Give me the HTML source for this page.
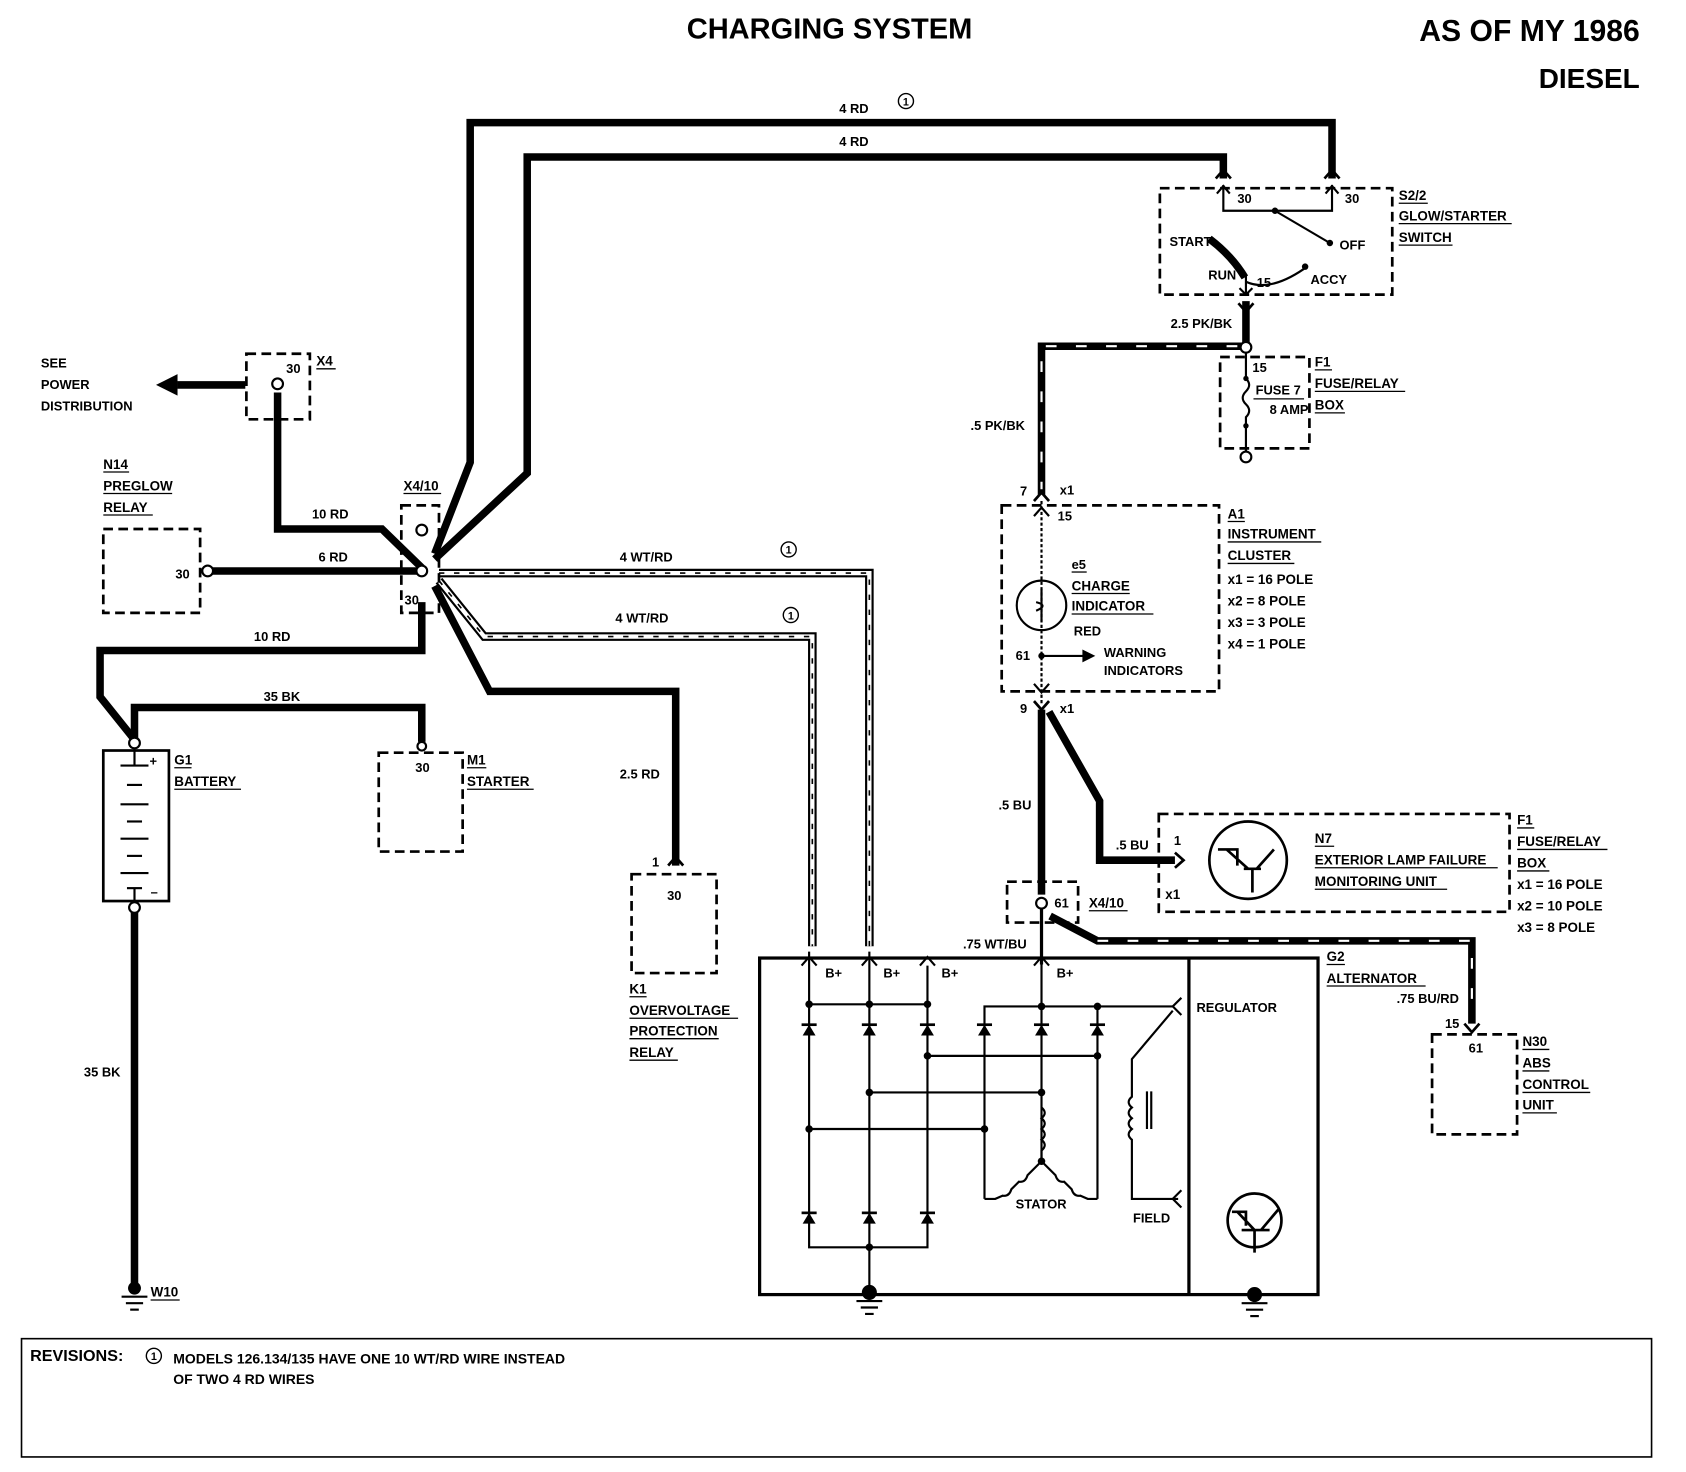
<!DOCTYPE html>
<html><head><meta charset="utf-8"><style>
html,body{margin:0;padding:0;background:#fff;}
svg{display:block;}
text{font-family:"Liberation Sans",sans-serif;font-weight:bold;fill:#000;}
.s{font-size:12px;}
.t{font-size:12.5px;}
</style></head><body>
<svg width="1686" height="1472" viewBox="0 0 1567 1369" preserveAspectRatio="none" xmlns="http://www.w3.org/2000/svg">
<defs>
<g id="dU"><polygon points="-6,5 6,5 0,-5" fill="#000"/><line x1="-7" y1="-5" x2="7" y2="-5" stroke="#000" stroke-width="2.5"/></g>
</defs>
<rect width="1567" height="1369" fill="#fff"/>
<text x="771" y="36" font-size="27" text-anchor="middle">CHARGING SYSTEM</text>
<text x="1524" y="38" font-size="28" text-anchor="end">AS OF MY 1986</text>
<text x="1524" y="82" font-size="26" text-anchor="end">DIESEL</text>

<g fill="none" stroke="#000" stroke-width="7" stroke-linejoin="miter">
<path d="M404,515 L437,430 L437,114 L1238,114 L1238,166"/>
<path d="M404,520 L490,440 L490,146 L1137,146 L1137,166"/>
<path d="M258,365 L258,492 L355,492 L392,528"/>
<path d="M193,531 L392,531"/>
<path d="M392,560 L392,605 L93,605 L93,648 L125,688"/>
<path d="M125,690 L125,658 L392,658 L392,690"/>
<path d="M125,848 L125,1195"/>
<path d="M404,545 L455,643 L628,643 L628,805"/>
<path d="M1158,280 L1158,322 L968,322 L968,460"/>
<path d="M968,660 L968,832"/>
<path d="M975,662 L1022,745 L1022,800 L1092,800"/>
<path d="M976,852 L1020,875 L1368,875 L1368,952"/>
<path d="M228,358 L165,358"/>
</g>
<polygon points="145,358 165,348 165,368" fill="#000"/>
<g fill="none" stroke="#fff" stroke-width="2" stroke-dasharray="10,18">
<path d="M1150,322 L968,322 L968,455"/>
<path d="M1020,875 L1368,875 L1368,945"/>
</g>
<g fill="none" stroke="#000" stroke-width="8"><path d="M408,533 L808,533 L808,880"/><path d="M408,540 L450,592 L755,592 L755,880"/></g>
<g fill="none" stroke="#fff" stroke-width="4"><path d="M408,533 L808,533 L808,880"/><path d="M408,540 L450,592 L755,592 L755,880"/></g>
<g fill="none" stroke="#000" stroke-width="1.5" stroke-dasharray="5,9"><path d="M408,533 L808,533 L808,880"/><path d="M408,540 L450,592 L755,592 L755,880"/></g>
<g fill="none" stroke="#000" stroke-width="2.5">
<path d="M1130,166 L1137,158 L1144,166"/><path d="M1231,166 L1238,158 L1245,166"/>
<path d="M961,466 L968,458 L975,466"/><path d="M961,652 L968,660 L975,652"/>
<path d="M621,805 L628,797 L635,805"/>
<path d="M1361,952 L1368,960 L1375,952"/>
<path d="M1151,282 L1158,290 L1165,282"/>
</g>

<rect x="1078" y="175" width="216" height="99" fill="none" stroke="#000" stroke-width="2.5" stroke-dasharray="9,5"/>
<g fill="none" stroke="#000" stroke-width="2">
<path d="M1137,172 L1137,196 L1238,196 L1238,172"/>
<path d="M1131,180 L1137,173 L1143,180 M1232,180 L1238,173 L1244,180"/>
<path d="M1185,196 L1236,226"/>
<path d="M1158,262 Q1180,272 1212,250"/>
<path d="M1158,256 L1158,274"/><path d="M1152,268 L1158,274 L1164,268"/>
</g>
<path d="M1124,222 Q1145,238 1157,258" stroke="#000" stroke-width="7" fill="none"/>
<circle cx="1185" cy="196" r="3" fill="#000"/><circle cx="1236" cy="226" r="3" fill="#000"/><circle cx="1213" cy="248" r="3" fill="#000"/>
<text class="s" x="1150" y="189">30</text><text class="s" x="1250" y="189">30</text>
<text class="s" x="1087" y="229">START</text><text class="s" x="1245" y="232">OFF</text>
<text class="s" x="1123" y="260">RUN</text><text class="s" x="1168" y="267">15</text><text class="s" x="1218" y="264">ACCY</text>
<text class="t" x="1300" y="186">S2/2</text><text class="t" x="1300" y="205">GLOW/STARTER</text><text class="t" x="1300" y="225">SWITCH</text>
<g stroke="#000" stroke-width="1.2"><line x1="1300" y1="189" x2="1327" y2="189"/><line x1="1300" y1="208" x2="1405" y2="208"/><line x1="1300" y1="228" x2="1350" y2="228"/></g>
<text class="s" x="1088" y="305">2.5 PK/BK</text>
<text class="s" x="902" y="400">.5 PK/BK</text>

<rect x="1134" y="332" width="83" height="85" fill="none" stroke="#000" stroke-width="2.5" stroke-dasharray="9,5"/>
<circle cx="1158" cy="323" r="5" fill="#fff" stroke="#000" stroke-width="2"/>
<circle cx="1158" cy="425" r="5" fill="#fff" stroke="#000" stroke-width="2"/>
<path d="M1158,328 L1158,352 Q1164,358 1158,364 Q1152,370 1158,376 Q1164,382 1158,388 L1158,420" fill="none" stroke="#000" stroke-width="2"/>
<circle cx="1158" cy="352" r="2.5" fill="#000"/><circle cx="1158" cy="396" r="2.5" fill="#000"/>
<text class="s" x="1164" y="346">15</text><text class="s" x="1167" y="367">FUSE 7</text><text class="s" x="1180" y="385">8 AMP</text>
<line x1="1165" y1="371" x2="1212" y2="371" stroke="#000" stroke-width="1.2"/>
<text class="t" x="1222" y="341">F1</text><text class="t" x="1222" y="361">FUSE/RELAY</text><text class="t" x="1222" y="381">BOX</text>
<g stroke="#000" stroke-width="1.2"><line x1="1222" y1="344" x2="1238" y2="344"/><line x1="1222" y1="364" x2="1306" y2="364"/><line x1="1222" y1="384" x2="1250" y2="384"/></g>

<rect x="229" y="329" width="59" height="61" fill="none" stroke="#000" stroke-width="2.5" stroke-dasharray="9,5"/>
<circle cx="258" cy="357" r="5" fill="#fff" stroke="#000" stroke-width="2"/>
<text class="s" x="266" y="347">30</text><text class="t" x="294" y="340">X4</text>
<line x1="294" y1="343" x2="312" y2="343" stroke="#000" stroke-width="1.2"/>
<text class="s" x="38" y="342">SEE</text><text class="s" x="38" y="362">POWER</text><text class="s" x="38" y="382">DISTRIBUTION</text>
<text class="s" x="290" y="482">10 RD</text>

<rect x="96" y="492" width="90" height="78" fill="none" stroke="#000" stroke-width="2.5" stroke-dasharray="9,5"/>
<circle cx="193" cy="531" r="5" fill="#fff" stroke="#000" stroke-width="2"/>
<text class="s" x="163" y="538">30</text>
<text class="t" x="96" y="436">N14</text><text class="t" x="96" y="456">PREGLOW</text><text class="t" x="96" y="476">RELAY</text>
<g stroke="#000" stroke-width="1.2"><line x1="96" y1="439" x2="120" y2="439"/><line x1="96" y1="459" x2="160" y2="459"/><line x1="96" y1="479" x2="142" y2="479"/></g>
<text class="s" x="296" y="522">6 RD</text>

<rect x="373" y="470" width="35" height="100" fill="none" stroke="#000" stroke-width="2.5" stroke-dasharray="9,5"/>
<circle cx="392" cy="493" r="5" fill="#fff" stroke="#000" stroke-width="2"/>
<circle cx="392" cy="531" r="5" fill="#fff" stroke="#000" stroke-width="2"/>
<text class="s" x="376" y="562">30</text>
<text class="t" x="375" y="456">X4/10</text>
<line x1="375" y1="459" x2="410" y2="459" stroke="#000" stroke-width="1.2"/>
<text class="s" x="236" y="596">10 RD</text>
<text class="s" x="245" y="652">35 BK</text>

<rect x="96" y="698" width="61" height="140" fill="none" stroke="#000" stroke-width="2.5"/>
<circle cx="125" cy="691" r="5" fill="#fff" stroke="#000" stroke-width="2"/>
<circle cx="125" cy="844" r="5" fill="#fff" stroke="#000" stroke-width="2"/>
<g stroke="#000" stroke-width="2">
<line x1="125" y1="698" x2="125" y2="712"/><line x1="112" y1="712" x2="138" y2="712"/>
<line x1="118" y1="730" x2="132" y2="730"/><line x1="112" y1="748" x2="138" y2="748"/><line x1="118" y1="764" x2="132" y2="764"/>
<line x1="112" y1="780" x2="138" y2="780"/><line x1="118" y1="796" x2="132" y2="796"/><line x1="112" y1="812" x2="138" y2="812"/><line x1="118" y1="826" x2="132" y2="826"/><line x1="125" y1="826" x2="125" y2="838"/>
</g>
<text class="s" x="139" y="712">+</text><text class="s" x="140" y="834">–</text>
<text class="t" x="162" y="711">G1</text><text class="t" x="162" y="731">BATTERY</text>
<g stroke="#000" stroke-width="1.2"><line x1="162" y1="714" x2="178" y2="714"/><line x1="162" y1="734" x2="224" y2="734"/></g>
<text class="s" x="78" y="1001">35 BK</text>
<g stroke="#000" stroke-width="2"><line x1="113" y1="1206" x2="137" y2="1206"/><line x1="117" y1="1212" x2="133" y2="1212"/><line x1="121" y1="1218" x2="129" y2="1218"/></g>
<circle cx="125" cy="1198" r="6" fill="#000"/>
<text class="t" x="140" y="1206">W10</text><line x1="140" y1="1209" x2="167" y2="1209" stroke="#000" stroke-width="1.2"/>

<rect x="352" y="700" width="78" height="92" fill="none" stroke="#000" stroke-width="2.5" stroke-dasharray="9,5"/>
<circle cx="392" cy="694" r="4" fill="#fff" stroke="#000" stroke-width="2"/>
<text class="s" x="386" y="718">30</text>
<text class="t" x="434" y="711">M1</text><text class="t" x="434" y="731">STARTER</text>
<g stroke="#000" stroke-width="1.2"><line x1="434" y1="714" x2="452" y2="714"/><line x1="434" y1="734" x2="496" y2="734"/></g>

<text class="s" x="576" y="724">2.5 RD</text>
<text class="s" x="606" y="806">1</text>
<rect x="587" y="813" width="79" height="92" fill="none" stroke="#000" stroke-width="2.5" stroke-dasharray="9,5"/>
<text class="s" x="620" y="837">30</text>
<text class="t" x="585" y="924">K1</text><text class="t" x="585" y="944">OVERVOLTAGE</text><text class="t" x="585" y="963">PROTECTION</text><text class="t" x="585" y="983">RELAY</text>
<g stroke="#000" stroke-width="1.2"><line x1="585" y1="927" x2="601" y2="927"/><line x1="585" y1="947" x2="686" y2="947"/><line x1="585" y1="966" x2="668" y2="966"/><line x1="585" y1="986" x2="630" y2="986"/></g>

<text class="s" x="576" y="522">4 WT/RD</text><text class="s" x="572" y="579">4 WT/RD</text>
<text class="s" x="780" y="105">4 RD</text><text class="s" x="780" y="136">4 RD</text>
<g fill="none" stroke="#000" stroke-width="1.3"><circle cx="842" cy="94" r="7"/><circle cx="733" cy="511" r="7"/><circle cx="735" cy="572" r="7"/></g>
<text x="842" y="98" font-size="10" text-anchor="middle">1</text><text x="733" y="515" font-size="10" text-anchor="middle">1</text><text x="735" y="576" font-size="10" text-anchor="middle">1</text>

<rect x="931" y="470" width="202" height="173" fill="none" stroke="#000" stroke-width="2.5" stroke-dasharray="9,5"/>
<g fill="none" stroke="#000" stroke-width="2">
<line x1="968" y1="466" x2="968" y2="655" stroke-dasharray="3,2"/>
<circle cx="968" cy="563" r="23"/>
<path d="M961,480 L968,472 L975,480"/><path d="M961,636 L968,644 L975,636"/>
<line x1="968" y1="610" x2="1008" y2="610"/>
<path d="M963,560 Q975,563 963,568 M968,548 L968,578"/>
</g>
<polygon points="1018,610 1006,604 1006,616" fill="#000"/>
<circle cx="968" cy="610" r="3" fill="#000"/>
<text class="s" x="983" y="484">15</text><text class="s" x="944" y="614">61</text>
<text class="s" x="948" y="461">7</text><text class="s" x="985" y="460">x1</text>
<text class="s" x="948" y="663">9</text><text class="s" x="985" y="663">x1</text>
<text class="s" x="996" y="529">e5</text><text class="t" x="996" y="549">CHARGE</text><text class="t" x="996" y="568">INDICATOR</text><text class="s" x="998" y="591">RED</text>
<g stroke="#000" stroke-width="1.2"><line x1="996" y1="532" x2="1010" y2="532"/><line x1="996" y1="552" x2="1050" y2="552"/><line x1="996" y1="571" x2="1072" y2="571"/></g>
<text class="s" x="1026" y="611">WARNING</text><text class="s" x="1026" y="628">INDICATORS</text>
<text class="t" x="1141" y="482">A1</text><text class="t" x="1141" y="501">INSTRUMENT</text><text class="t" x="1141" y="521">CLUSTER</text>
<g stroke="#000" stroke-width="1.2"><line x1="1141" y1="485" x2="1157" y2="485"/><line x1="1141" y1="504" x2="1228" y2="504"/><line x1="1141" y1="524" x2="1203" y2="524"/></g>
<text class="t" x="1141" y="543">x1 = 16 POLE</text><text class="t" x="1141" y="563">x2 = 8 POLE</text><text class="t" x="1141" y="583">x3 = 3 POLE</text><text class="t" x="1141" y="603">x4 = 1 POLE</text>

<text class="s" x="928" y="753">.5 BU</text><text class="s" x="1037" y="790">.5 BU</text>
<rect x="1077" y="757" width="326" height="91" fill="none" stroke="#000" stroke-width="2.5" stroke-dasharray="9,5"/>
<path d="M1092,793 L1100,800 L1092,807" fill="none" stroke="#000" stroke-width="2.5"/>
<g fill="none" stroke="#000" stroke-width="2.5">
<circle cx="1160" cy="800" r="36"/>
<path d="M1132,790 L1150,790 L1150,805 M1140,790 L1160,808 M1168,808 L1184,790 M1156,808 L1172,808 M1164,808 L1164,830"/>
</g>
<text class="s" x="1091" y="786">1</text><text class="t" x="1083" y="836">x1</text>
<text class="t" x="1222" y="784">N7</text><text class="t" x="1222" y="804">EXTERIOR LAMP FAILURE</text><text class="t" x="1222" y="824">MONITORING UNIT</text>
<g stroke="#000" stroke-width="1.2"><line x1="1222" y1="787" x2="1240" y2="787"/><line x1="1222" y1="807" x2="1392" y2="807"/><line x1="1222" y1="827" x2="1345" y2="827"/></g>
<text class="t" x="1410" y="767">F1</text><text class="t" x="1410" y="787">FUSE/RELAY</text><text class="t" x="1410" y="807">BOX</text>
<g stroke="#000" stroke-width="1.2"><line x1="1410" y1="770" x2="1426" y2="770"/><line x1="1410" y1="790" x2="1494" y2="790"/><line x1="1410" y1="810" x2="1440" y2="810"/></g>
<text class="t" x="1410" y="827">x1 = 16 POLE</text><text class="t" x="1410" y="847">x2 = 10 POLE</text><text class="t" x="1410" y="867">x3 = 8 POLE</text>

<rect x="936" y="820" width="66" height="38" fill="none" stroke="#000" stroke-width="2.5" stroke-dasharray="9,5"/>
<line x1="968" y1="845" x2="968" y2="897" stroke="#000" stroke-width="3"/>
<circle cx="968" cy="840" r="5" fill="#fff" stroke="#000" stroke-width="2"/>
<text class="s" x="980" y="844">61</text><text class="t" x="1012" y="844">X4/10</text>
<line x1="1012" y1="847" x2="1048" y2="847" stroke="#000" stroke-width="1.2"/>
<text class="s" x="895" y="882">.75 WT/BU</text>
<text class="s" x="1298" y="933">.75 BU/RD</text><text class="s" x="1343" y="956">15</text>

<rect x="1331" y="962" width="79" height="93" fill="none" stroke="#000" stroke-width="2.5" stroke-dasharray="9,5"/>
<text class="s" x="1365" y="979">61</text>
<text class="t" x="1415" y="973">N30</text><text class="t" x="1415" y="993">ABS</text><text class="t" x="1415" y="1013">CONTROL</text><text class="t" x="1415" y="1032">UNIT</text>
<g stroke="#000" stroke-width="1.2"><line x1="1415" y1="976" x2="1440" y2="976"/><line x1="1415" y1="996" x2="1440" y2="996"/><line x1="1415" y1="1016" x2="1478" y2="1016"/><line x1="1415" y1="1035" x2="1447" y2="1035"/></g>

<rect x="706" y="891" width="519" height="313" fill="none" stroke="#000" stroke-width="3"/>
<line x1="1105" y1="891" x2="1105" y2="1204" stroke="#000" stroke-width="3"/>
<g fill="none" stroke="#000" stroke-width="2">
<path d="M752,885 L752,1160 L862,1160 L862,898"/>
<path d="M808,885 L808,1200"/>
<path d="M968,880 L968,1080"/>
<path d="M752,934 L862,934"/>
<path d="M915,1115 L915,936 L1090,936"/>
<path d="M1020,936 L1020,1115"/>
<path d="M862,982 L1020,982"/><path d="M808,1016 L968,1016"/><path d="M752,1050 L915,1050"/>
<path d="M968,1030 q6,5 0,10 q6,5 0,10 q6,5 0,10 q6,5 0,10 L968,1080"/>
<path d="M968,1080 L955,1093 q-2,7 -8,6 L940,1106 q-2,7 -8,6 L925,1115 L915,1115"/>
<path d="M968,1080 L981,1093 q2,7 8,6 L996,1106 q2,7 8,6 L1011,1115 L1020,1115"/>
<path d="M1090,940 L1052,985 L1052,1020 q-6,5 0,10 q-6,5 0,10 q-6,5 0,10 q-6,5 0,10 L1052,1115 L1095,1115"/>
<path d="M1066,1015 L1066,1050 M1070,1015 L1070,1050"/>
<path d="M1098,928 L1090,936 L1098,944 M1098,1107 L1090,1115 L1098,1123"/>
<path d="M745,898 L752,890 L759,898 M801,898 L808,890 L815,898 M855,898 L862,890 L869,898 M961,898 L968,890 L975,898"/>
<circle cx="1166" cy="1135" r="25" stroke-width="2.5"/>
<path d="M1145,1127 L1158,1127 L1158,1140 M1150,1127 L1166,1144 M1172,1144 L1188,1125 M1154,1144 L1180,1144 M1166,1144 L1166,1165" stroke-width="2.5"/>
</g>
<g fill="#000">
<circle cx="752" cy="934" r="3.5"/><circle cx="808" cy="934" r="3.5"/><circle cx="862" cy="934" r="3.5"/>
<circle cx="968" cy="936" r="3.5"/><circle cx="1020" cy="936" r="3.5"/>
<circle cx="862" cy="982" r="3.5"/><circle cx="1020" cy="982" r="3.5"/><circle cx="808" cy="1016" r="3.5"/><circle cx="968" cy="1016" r="3.5"/>
<circle cx="752" cy="1050" r="3.5"/><circle cx="915" cy="1050" r="3.5"/><circle cx="968" cy="1080" r="3.5"/><circle cx="808" cy="1160" r="3.5"/>
<circle cx="808" cy="1202" r="7"/><circle cx="1166" cy="1204" r="7"/>
</g>
<use href="#dU" x="752" y="958"/><use href="#dU" x="808" y="958"/><use href="#dU" x="862" y="958"/>
<use href="#dU" x="915" y="958"/><use href="#dU" x="968" y="958"/><use href="#dU" x="1020" y="958"/>
<use href="#dU" x="752" y="1133"/><use href="#dU" x="808" y="1133"/><use href="#dU" x="862" y="1133"/>
<g stroke="#000" stroke-width="2"><line x1="796" y1="1210" x2="820" y2="1210"/><line x1="800" y1="1216" x2="816" y2="1216"/><line x1="804" y1="1222" x2="812" y2="1222"/>
<line x1="1154" y1="1212" x2="1178" y2="1212"/><line x1="1158" y1="1218" x2="1174" y2="1218"/><line x1="1162" y1="1224" x2="1170" y2="1224"/></g>
<text class="s" x="767" y="909">B+</text><text class="s" x="821" y="909">B+</text><text class="s" x="875" y="909">B+</text><text class="s" x="982" y="909">B+</text>
<text class="s" x="1112" y="941">REGULATOR</text><text class="s" x="944" y="1124">STATOR</text><text class="s" x="1053" y="1137">FIELD</text>
<text class="t" x="1233" y="894">G2</text><text class="t" x="1233" y="914">ALTERNATOR</text>
<g stroke="#000" stroke-width="1.2"><line x1="1233" y1="897" x2="1250" y2="897"/><line x1="1233" y1="917" x2="1325" y2="917"/></g>

<rect x="20" y="1245" width="1515" height="110" fill="none" stroke="#000" stroke-width="1.5"/>
<text x="28" y="1266" font-size="15">REVISIONS:</text>
<circle cx="143" cy="1261" r="7" fill="none" stroke="#000" stroke-width="1.3"/><text x="143" y="1265" font-size="10" text-anchor="middle">1</text>
<text x="161" y="1268" font-size="13">MODELS 126.134/135 HAVE ONE 10 WT/RD WIRE INSTEAD</text>
<text x="161" y="1287" font-size="13">OF TWO 4 RD WIRES</text>
</svg>
</body></html>
